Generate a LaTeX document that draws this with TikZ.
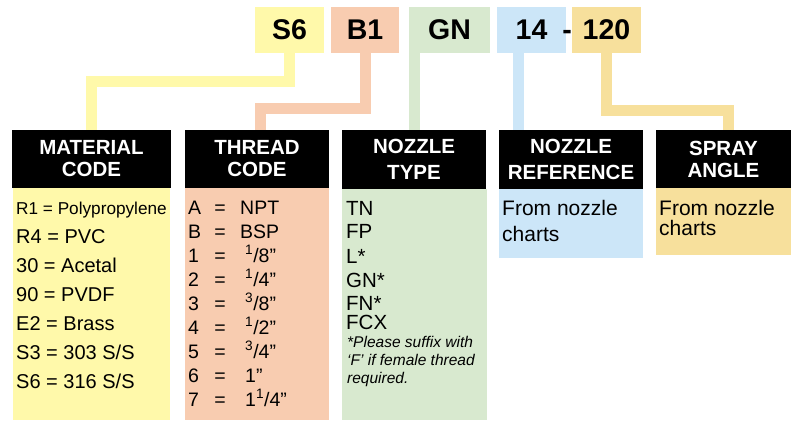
\documentclass[tikz,border=0pt]{standalone}
\usepackage{fontspec}
\setmainfont{Liberation Sans}
\definecolor{matyellow}{RGB}{255,249,170}
\definecolor{thrsalmon}{RGB}{248,204,176}
\definecolor{typegreen}{RGB}{216,233,207}
\definecolor{refblue}{RGB}{204,230,248}
\definecolor{anggold}{RGB}{247,224,156}
\newcommand{\thrfrac}[2]{\textsuperscript{#1}/#2”}

\tikzset{
  codebox/.style={rectangle, inner sep=0pt, minimum height=46pt, font=\bfseries\fontsize{28.5}{30}\selectfont},
  headbox/.style={rectangle, fill=black, text=white, align=center, inner sep=0pt, minimum width=144pt, minimum height=58pt, font=\bfseries\fontsize{20.5}{22}\selectfont},
  link/.style={line width=11pt, line join=miter},
  bodytxt/.style={anchor=base west, inner sep=0pt, font=\fontsize{20}{24}\selectfont},
}

\begin{document}
\begin{tikzpicture}[x=1pt,y=-1pt]
\useasboundingbox (0,0) rectangle (791,420);

\node[codebox, fill=matyellow, minimum width=69pt] (s6) at (289.5,30) {S6};
\node[codebox, fill=thrsalmon, minimum width=68pt] (b1) at (365,30) {B1};
\node[codebox, fill=typegreen, minimum width=81pt] (gn) at (449.5,30) {GN};
\node[codebox, fill=refblue, minimum width=69pt] (c14) at (531.5,30) {14};
\node[anchor=base, inner sep=0pt, font=\bfseries\fontsize{28.5}{30}\selectfont] (hyph) at (567,40) {-};
\node[codebox, fill=anggold, minimum width=69pt] (c120) at (606.5,30) {120};

\node[headbox, minimum width=159pt] (mat) at (91.5,159) {MATERIAL\\CODE};
\node[headbox] (thr) at (257,159) {THREAD\\CODE};
\node[headbox, minimum height=59pt, font=\bfseries\fontsize{20.5}{26}\selectfont] (type) at (414,159.5) {NOZZLE\\TYPE};
\node[headbox, minimum height=59pt, font=\bfseries\fontsize{20.5}{26}\selectfont] (ref) at (571,159.5) {NOZZLE\\REFERENCE};
\node[headbox, minimum width=135pt] (ang) at (723.5,159) {SPRAY\\ANGLE};

\draw[link, matyellow] (s6.south) -- ++(0,28) -| (mat.north);
\draw[link, thrsalmon] (b1.south) -- ++(0,55) -| ([xshift=3pt]thr.north);
\draw[link, typegreen] (type.north) -- (type.north |- gn.south);
\draw[link, refblue] ([xshift=-13pt]c14.south) -- ([xshift=-13pt]c14.south |- ref.north);
\draw[link, anggold] (c120.south) -- ++(0,57) -| ([xshift=4.5pt]ang.north);

\fill[matyellow] (13,188) rectangle (170,420);
\fill[thrsalmon] (185,188) rectangle (329,420);
\fill[typegreen] (342,189) rectangle (487,420);
\fill[refblue] (499,189) rectangle (643,258);
\fill[anggold] (656,188) rectangle (791,255);

\node[bodytxt, font=\fontsize{17.2}{20}\selectfont] (matline0) at (16,214) {R1 = Polypropylene};
\foreach \txt [count=\i] in {R4 = PVC, 30 = Acetal, 90 = PVDF, E2 = Brass, S3 = 303 S/S, S6 = 316 S/S}
  \node[bodytxt] (matline\i) at (16,214+29*\i) {\txt};

\foreach \lbl/\val [count=\i from 0] in {A/NPT, B/BSP}{
  \node[bodytxt, font=\fontsize{19.5}{24}\selectfont] (thrkey\i) at (188,214+24*\i) {\lbl};
  \node[anchor=base, inner sep=0pt, font=\fontsize{19.5}{24}\selectfont] (threq\i) at (220,214+24*\i) {=};
  \node[bodytxt, font=\fontsize{19.5}{24}\selectfont] (thrval\i) at (240,214+24*\i) {\val};
}
\foreach \lbl/\val [count=\i from 2] in {1/\thrfrac{1}{8}, 2/\thrfrac{1}{4}, 3/\thrfrac{3}{8}, 4/\thrfrac{1}{2}, 5/\thrfrac{3}{4}, 6/1”, 7/1\thrfrac{1}{4}}{
  \node[bodytxt, font=\fontsize{19.5}{24}\selectfont] (thrkey\i) at (188,214+24*\i) {\lbl};
  \node[anchor=base, inner sep=0pt, font=\fontsize{19.5}{24}\selectfont] (threq\i) at (220,214+24*\i) {=};
  \node[bodytxt, font=\fontsize{19.5}{24}\selectfont] (thrval\i) at (245,214+24*\i) {\val};
}

\foreach \txt/\yy [count=\i] in {TN/215, FP/238, L*/263, GN*/287, FN*/310, FCX/329}
  \node[bodytxt, font=\fontsize{20.5}{24}\selectfont] (typeline\i) at (346,\yy) {\txt};
\foreach \txt/\yy [count=\i] in {*Please suffix with/347, ‘F’ if female thread/365, required./383}
  \node[bodytxt, font=\itshape\fontsize{15.5}{18}\selectfont] (typenote\i) at (347,\yy) {\txt};

\node[bodytxt, font=\fontsize{21}{24}\selectfont] (refline1) at (502,215) {From nozzle};
\node[bodytxt, font=\fontsize{21}{24}\selectfont] (refline2) at (502,241) {charts};
\node[bodytxt, font=\fontsize{21}{24}\selectfont] (angline1) at (659,215) {From nozzle};
\node[bodytxt, font=\fontsize{21}{24}\selectfont] (angline2) at (659,235) {charts};

\end{tikzpicture}
\end{document}
